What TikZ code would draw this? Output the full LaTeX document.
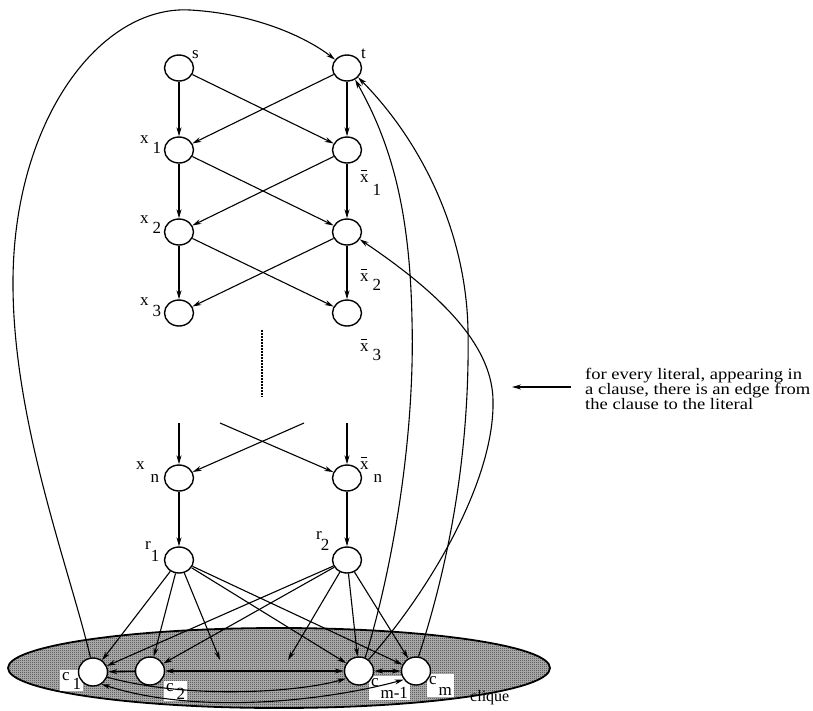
\documentclass[tikz,border=0pt]{standalone}
\usepackage{fontspec}
\setmainfont{Liberation Serif}
\newfontfamily\notefont[FakeStretch=1.16]{Liberation Serif}
\usetikzlibrary{shapes.geometric,arrows.meta,patterns.meta}
% x with a bar over it
\newcommand\xbar{\ooalign{x\cr\hidewidth\rule[11.5pt]{6pt}{0.9pt}\hidewidth\cr}}
% letter, index, gap, drop of the index
\newcommand\sublab[4]{#1\kern#3\raisebox{-#4}{#2}}
% fine checker screen for the shaded region
\tikzdeclarepattern{
  name=screen,
  type=uncolored,
  bounding box={(0pt,0pt) and (2pt,2pt)},
  tile size={(2pt,2pt)},
  code={
    \fill (0pt,0pt) rectangle (1pt,1pt);
    \fill (1pt,1pt) rectangle (2pt,2pt);
  }
}
\begin{document}
\begin{tikzpicture}[x=1pt,y=-1pt,
  vert/.style={ellipse,draw,line width=1.4pt,minimum width=29pt,minimum height=26pt,inner sep=0pt,fill=white},
  cvert/.style={vert,minimum height=28pt},
  tip/.tip={Stealth[length=9pt,width=5pt]},
  link/.style={line width=1.1pt,-tip},
  both/.style={line width=1.1pt,tip-tip},
  lbl/.style={inner sep=0pt,anchor=base west,font=\fontsize{17}{17}\selectfont},
  clbl/.style={lbl,fill=white,inner sep=1.8pt}]
\useasboundingbox (0,0) rectangle (813,710);

% the clique region
\node[ellipse,draw,line width=1.8pt,preaction={fill=black!25},pattern=screen,pattern color=black,minimum width=542pt,minimum height=80pt] (clique) at (279,668) {};

% literal chain
\node[vert] (s) at (179,68) {};
\node[vert] (t) at (347,68) {};
\node[vert] (x1) at (179,150) {};
\node[vert] (xb1) at (347,150) {};
\node[vert] (x2) at (179,232) {};
\node[vert] (xb2) at (347,232) {};
\node[vert] (x3) at (179,313) {};
\node[vert] (xb3) at (347,313) {};
\node[vert] (xn) at (179,478) {};
\node[vert] (xbn) at (347,478) {};
\node[vert] (r1) at (179,560) {};
\node[vert] (r2) at (347,560) {};

% labels
\node[lbl] (ls) at (192,58) {s};
\node[lbl] (lt) at (361,58) {t};
\node[lbl] (lx1) at (140,143) {\sublab{x}{1}{4pt}{10pt}};
\node[lbl] (lxb1) at (360,182) {\sublab{\xbar}{1}{4pt}{13pt}};
\node[lbl] (lx2) at (140,223) {\sublab{x}{2}{4pt}{10pt}};
\node[lbl] (lxb2) at (360,281) {\sublab{\xbar}{2}{4pt}{9pt}};
\node[lbl] (lx3) at (140,305) {\sublab{x}{3}{4pt}{11pt}};
\node[lbl] (lxb3) at (360,351) {\sublab{\xbar}{3}{4pt}{9pt}};
\node[lbl] (lxn) at (136,469) {\sublab{x}{n}{6pt}{13pt}};
\node[lbl] (lxbn) at (360,469) {\sublab{\xbar}{n}{5pt}{13pt}};
\node[lbl] (lr1) at (145,549) {\sublab{r}{1}{0pt}{12pt}};
\node[lbl] (lr2) at (316,539) {\sublab{r}{2}{-1pt}{11pt}};
\node[clbl] (lc1) at (60,680) {\sublab{c}{1}{3pt}{9pt}};
\node[clbl] (lc2) at (164,691) {\sublab{c}{2}{3pt}{8pt}};
\node[clbl] (lcm1) at (369,686) {\sublab{c}{m-1}{2pt}{12pt}};
\node[clbl] (lcm) at (427,684) {\sublab{c}{m}{2pt}{11pt}};
\node[lbl,font=\fontsize{16}{16}\selectfont] (lq) at (470,701) {clique};

% clause nodes
\node[cvert] (c1) at (93,672) {};
\node[cvert] (c2) at (150,671) {};
\node[cvert] (cm1) at (359,671) {};
\node[cvert] (cm) at (416,671) {};

% ladder edges
\draw[link] (s) -- (x1);
\draw[link] (s) -- (xb1);
\draw[link] (t) -- (xb1);
\draw[link] (t) -- (x1);
\draw[link] (x1) -- (x2);
\draw[link] (x1) -- (xb2);
\draw[link] (xb1) -- (xb2);
\draw[link] (xb1) -- (x2);
\draw[link] (x2) -- (x3);
\draw[link] (x2) -- (xb3);
\draw[link] (xb2) -- (xb3);
\draw[link] (xb2) -- (x3);

% omitted middle part
\draw[line width=2.4pt,dash pattern=on 1.6pt off 1.4pt] (262,330) -- (262,397);
\coordinate (ua) at (179,423);
\coordinate (ub) at (220,423);
\coordinate (uc) at (304,423);
\coordinate (ud) at (347,423);
\draw[link] (ua) -- (xn);
\draw[link] (ub) -- (xbn);
\draw[link] (uc) -- (xn);
\draw[link] (ud) -- (xbn);
\draw[link] (xn) -- (r1);
\draw[link] (xbn) -- (r2);

% edges into the clause nodes
\coordinate (d1) at (220,660);
\coordinate (d2) at (288,660);
\draw[link] (r1) -- (c1);
\draw[link] (r1) -- (c2);
\draw[link] (r1) -- (d1);
\draw[link] (r1) -- (cm1);
\draw[link] (r1) -- (cm);
\draw[link] (r2) -- (c1);
\draw[link] (r2) -- (c2);
\draw[link] (r2) -- (d2);
\draw[link] (r2) -- (cm1);
\draw[link] (r2) -- (cm);

% clique edges
\draw[link,line width=1.6pt] (c2) -- (c1);
\draw[both] (c2) -- (cm1);
\draw[both,line width=2pt] (cm1) -- (cm);
\draw[link] (c1.-20) .. controls (190,700) and (300,692) .. (cm1.-150);
\draw[both] (c1.-55) .. controls (200,716) and (330,700) .. (cm.-145);

% clause-to-literal edges
\draw[link] (c1.100) .. controls (70,570) and (12,420) .. (13,280)
  .. controls (14,120) and (100,5) .. (190,10)
  .. controls (260,14) and (310,40) .. (t.145);
\draw[link] (cm1.65) .. controls (395,560) and (415,430) .. (412,320)
  .. controls (410,220) and (395,150) .. (t.-55);
\draw[link] (cm.80) .. controls (450,560) and (470,450) .. (468,330)
  .. controls (466,230) and (420,140) .. (t.-40);
\draw[link] (cm1.50) .. controls (430,590) and (495,480) .. (493,400)
  .. controls (492,350) and (450,300) .. (xb2.-30);

% side note
\node[font=\notefont\fontsize{16}{15}\selectfont,align=left,anchor=west,inner sep=0pt] (note) at (585,389)
  {for every literal, appearing in\\a clause, there is an edge from\\the clause to the literal};
\coordinate (notetail) at (571,387);
\coordinate (notetip) at (512,387);
\draw[link,line width=1.3pt] (notetail) -- (notetip);
\end{tikzpicture}
\end{document}
